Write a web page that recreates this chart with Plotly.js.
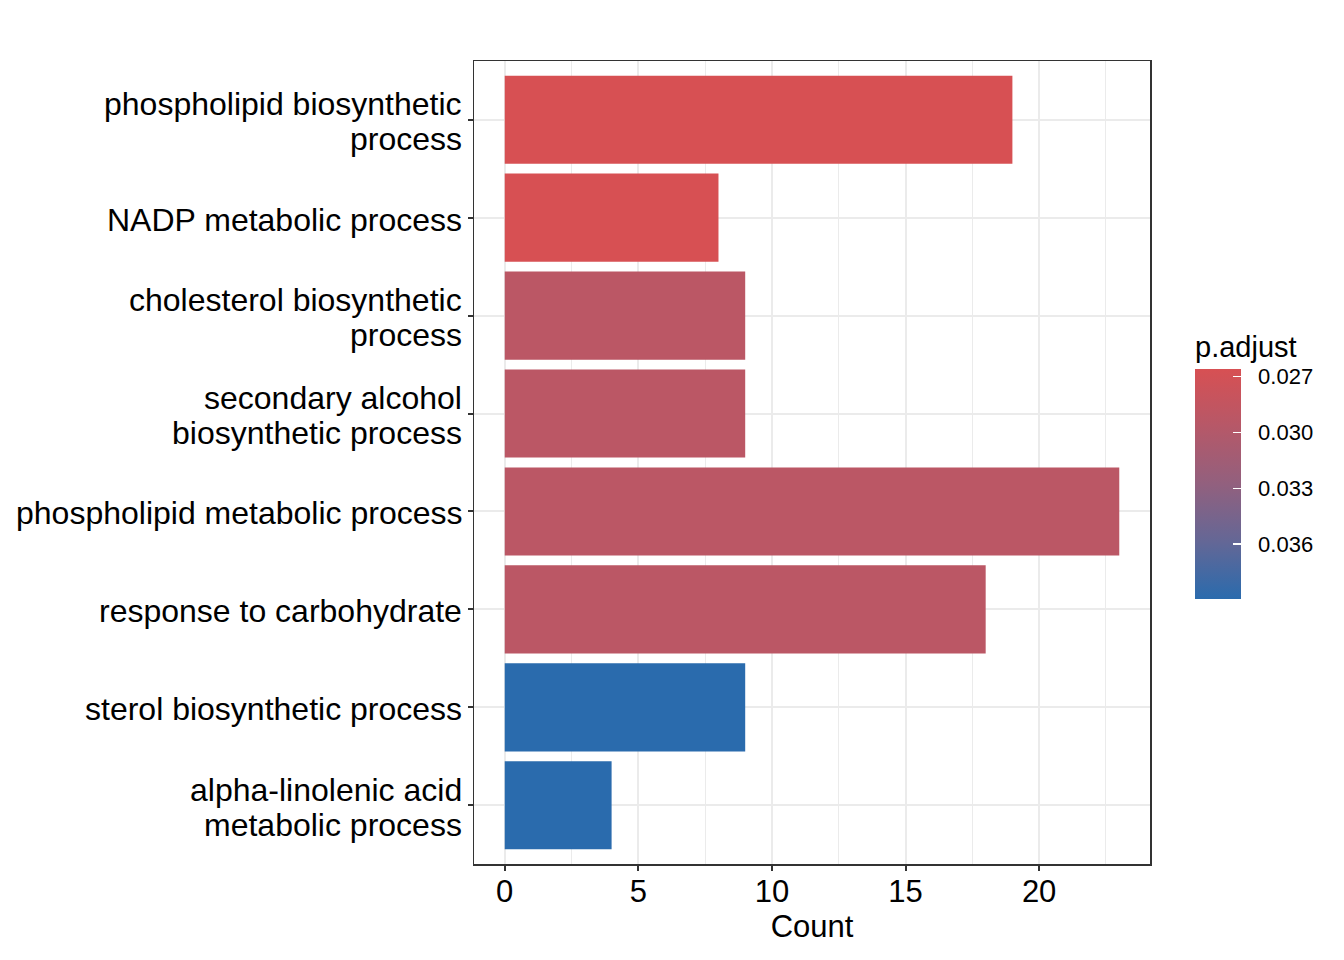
<!DOCTYPE html>
<html>
<head>
<meta charset="utf-8">
<script src="https://cdn.plot.ly/plotly-3.0.1.min.js"></script>
<style>html,body{margin:0;padding:0;background:#fff;}#chart{width:1344px;height:960px;}</style>
</head>
<body>
<div id="chart"></div>
<script>
const categories = [
  "phospholipid biosynthetic<br>process",
  "NADP metabolic process",
  "cholesterol biosynthetic<br>process",
  "secondary alcohol<br>biosynthetic process",
  "phospholipid metabolic process",
  "response to carbohydrate",
  "sterol biosynthetic process",
  "alpha-linolenic acid<br>metabolic process"
];
const counts = [19, 8, 9, 9, 23, 18, 9, 4];
const padjust = [0.02660, 0.02660, 0.02920, 0.02920, 0.02920, 0.02920, 0.03895, 0.03895];
const colorTicks = [0.027, 0.030, 0.033, 0.036];
const xTicks = [0, 5, 10, 15, 20];

const FONT = "Liberation Sans, Arial, Helvetica, sans-serif";
const pMin = 0.02659, pMax = 0.03896;

// colorbar runs low p (red) at top -> plot negated values so the bar reads top-down
const colorscale = [
  [0, "rgb(42,107,173)"],
  [0.25, "rgb(100,103,150)"],
  [0.5, "rgb(146,96,126)"],
  [0.75, "rgb(182,88,104)"],
  [1, "rgb(215,80,83)"]
];

const trace = {
  type: "bar",
  orientation: "h",
  x: counts,
  y: categories.map((c, i) => i),
  width: 0.9,
  marker: {
    color: padjust.map(v => -v),
    colorscale: colorscale,
    cmin: -pMax,
    cmax: -pMin,
    showscale: true,
    line: {width: 0},
    colorbar: {
      title: {text: "p.adjust", side: "top", font: {family: FONT, size: 29, color: "#000"}},
      thickness: 46,
      thicknessmode: "pixels",
      len: 267,
      lenmode: "pixels",
      x: 1.0666,
      xanchor: "left",
      y: 0.4963,
      yanchor: "middle",
      xpad: 0,
      ypad: 0,
      outlinewidth: 0,
      tickvals: colorTicks.map(v => -v),
      ticktext: colorTicks.map(v => "\u00a0\u00a0" + v.toFixed(3)),
      ticks: "inside",
      ticklen: 8,
      tickcolor: "#ffffff",
      tickwidth: 1.2,
      tickfont: {family: FONT, size: 22, color: "#000"}
    }
  },
  hoverinfo: "x"
};

const annotations = [];
categories.forEach((c, i) => {
  const lines = c.split("<br>");
  const n = lines.length;
  lines.forEach((ln, k) => {
    annotations.push({
      xref: "paper", yref: "y",
      x: 0, y: i,
      xanchor: "right", yanchor: "middle",
      xshift: -10,
      yshift: ((n - 1) / 2 - k) * 35 - 2,
      text: ln,
      showarrow: false,
      align: "right",
      font: {family: FONT, size: 32, color: "#000"}
    });
  });
});

const layout = {
  width: 1344,
  height: 960,
  margin: {l: 474, r: 194, t: 61, b: 96},
  paper_bgcolor: "#fff",
  plot_bgcolor: "#fff",
  showlegend: false,
  font: {family: FONT, color: "#000"},
  annotations: annotations,
  xaxis: {
    range: [-1.15, 24.15],
    tickvals: xTicks,
    ticktext: xTicks.map(String),
    ticks: "outside",
    ticklen: 5,
    tickwidth: 2,
    tickcolor: "#333",
    ticklabelstandoff: -6,
    tickfont: {family: FONT, size: 31, color: "#000"},
    showgrid: true,
    gridcolor: "#EBEBEB",
    gridwidth: 2,
    minor: {dtick: 2.5, tick0: 2.5, showgrid: true, gridcolor: "#EBEBEB", gridwidth: 1},
    zeroline: false,
    showline: true,
    linecolor: "#333",
    linewidth: 1.5,
    mirror: true,
    title: {text: "Count", font: {family: FONT, size: 31, color: "#000"}, standoff: 4}
  },
  yaxis: {
    range: [7.6, -0.6],
    tickvals: categories.map((c, i) => i),
    showticklabels: false,
    ticks: "outside",
    ticklen: 5,
    tickwidth: 2,
    tickcolor: "#333",
    showgrid: true,
    gridcolor: "#EBEBEB",
    gridwidth: 2,
    zeroline: false,
    showline: true,
    linecolor: "#333",
    linewidth: 1.5,
    mirror: true
  }
};

Plotly.newPlot("chart", [trace], layout, {displayModeBar: false, staticPlot: true});
</script>
</body>
</html>
